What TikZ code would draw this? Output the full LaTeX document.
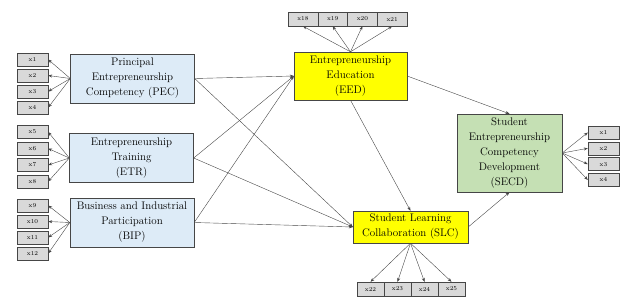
\documentclass[tikz,border=0pt]{standalone}
\usepackage{tikz}
\usetikzlibrary{arrows.meta,positioning}
\definecolor{LatentBlue}{RGB}{221,235,247}
\definecolor{LatentYellow}{RGB}{255,255,0}
\definecolor{LatentGreen}{RGB}{197,224,180}
\definecolor{ItemGray}{RGB}{217,217,217}
\definecolor{EdgeGray}{RGB}{70,70,70}
\tikzset{
  latent/.style={
    draw=EdgeGray,
    align=center,
    font=\fontsize{11}{15}\selectfont,
    inner sep=1pt
  },
  exobox/.style={latent,fill=LatentBlue,minimum width=124pt,minimum height=49pt},
  medbox/.style={latent,fill=LatentYellow},
  outbox/.style={latent,fill=LatentGreen},
  item/.style={
    draw=EdgeGray,
    fill=ItemGray,
    font=\fontsize{6}{6}\selectfont,
    minimum width=31pt,
    minimum height=13pt,
    inner sep=0pt
  },
  path/.style={-{Stealth[length=4pt,width=3pt]},draw=EdgeGray,line width=0.4pt}
}
\begin{document}
\begin{tikzpicture}[x=1pt,y=-1pt]
  \useasboundingbox (0,0) rectangle (640,301);
  % Exogenous constructs
  \node[exobox] (PEC) at (132.5,78.5) {Principal\\Entrepreneurship\\Competency (PEC)};
  \node[exobox] (ETR) at (131.5,158) {Entrepreneurship\\Training\\(ETR)};
  \node[exobox] (BIP) at (132,222.5) {Business and Industrial\\Participation\\(BIP)};

  % Mediators and outcome
  \node[medbox, minimum width=113pt, minimum height=48pt] (EED) at (350.5,76) {Entrepreneurship\\Education\\(EED)};
  \node[medbox, minimum width=115pt, minimum height=32pt] (SLC) at (410.5,227) {Student Learning\\Collaboration (SLC)};
  \node[outbox, minimum width=105pt, minimum height=78pt] (SECD) at (509.5,153) {Student\\Entrepreneurship\\Competency\\Development\\(SECD)};

  % Indicators
  \foreach \i [count=\k from 0] in {1,...,4}
    \node[item] (pec\i) at (32.5,59.5+16*\k) {x\i};
  \foreach \i [count=\k from 0] in {5,...,8}
    \node[item] (etr\i) at (32.5,132+16.5*\k) {x\i};
  \foreach \i [count=\k from 0] in {9,...,12}
    \node[item] (bip\i) at (32.5,205.5+16*\k) {x\i};
  \foreach \i [count=\k from 0] in {18,...,21}
    \node[item, minimum width=29.75pt, minimum height=14pt] (eed\i) at (302.9+29.75*\k,19) {x\i};
  \foreach \i [count=\k from 0] in {22,...,25}
    \node[item, minimum width=27pt, minimum height=14pt] (slc\i) at (370.5+27*\k,289) {x\i};
  \foreach \i [count=\k from 0] in {1,...,4}
    \node[item] (secd\i) at (603.5,132.5+15.8*\k) {x\i};

  % Measurement arrows
  \foreach \i in {1,...,4} \draw[path] (PEC.west) -- (pec\i.east);
  \foreach \i in {5,...,8} \draw[path] (ETR.west) -- (etr\i.east);
  \foreach \i in {9,...,12} \draw[path] (BIP.west) -- (bip\i.east);
  \foreach \i in {18,...,21} \draw[path] (EED.north) -- (eed\i.south);
  \foreach \i in {22,...,25} \draw[path] (SLC.south) -- (slc\i.north);
  \foreach \i in {1,...,4} \draw[path] (SECD.east) -- (secd\i.west);

  % Structural paths
  \foreach \src in {PEC,ETR,BIP} {
    \draw[path] (\src.east) -- (EED.west);
    \draw[path] (\src.east) -- (SLC.west);
  }
  \draw[path] (EED.south) -- (SLC.north);
  \draw[path] (EED.east) -- (SECD.north);
  \draw[path] (SLC.east) -- (SECD.south);
\end{tikzpicture}
\end{document}
